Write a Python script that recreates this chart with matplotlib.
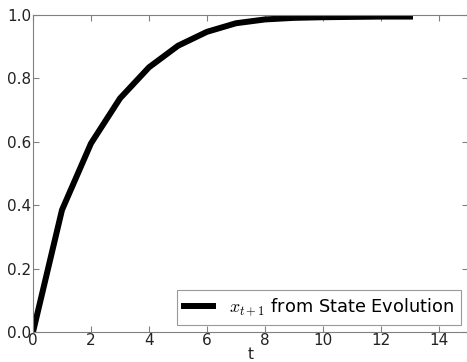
import numpy as np
import matplotlib
matplotlib.use("Agg")
import matplotlib.pyplot as plt

# state evolution values
t = [0, 1, 2, 3, 4, 5, 6, 7, 8, 9, 10, 11, 12, 13]
x_next = [0.0, 0.385, 0.595, 0.737, 0.835, 0.903, 0.947, 0.974, 0.986,
          0.991, 0.993, 0.994, 0.995, 0.995]

plt.rcParams['mathtext.fontset'] = 'cm'
plt.rcParams['font.family'] = 'DejaVu Sans'

fig = plt.figure(figsize=(4.67, 3.62), dpi=100)
ax = fig.add_axes([33 / 467, 1 - 332 / 362, 435 / 467, 317 / 362])

ax.plot(t, x_next, color='black', linewidth=4.3, label=r'$x_{t+1}$ from State Evolution')

ax.set_xlim(0, 15)
ax.set_ylim(0, 1.0)
ax.set_xticks(np.arange(0, 15, 2))
ax.set_yticks(np.arange(0, 1.01, 0.2))
ax.set_xlabel('t', fontsize=11, labelpad=-1, color='#222222')

for sp in ax.spines.values():
    sp.set_color('#808080')
ax.tick_params(direction='in', top=True, right=True, length=4, width=0.8,
               color='#808080', labelsize=11, labelcolor='#222222', pad=1)

leg = ax.legend(loc='lower right', fontsize=12.8, fancybox=False,
                borderaxespad=0.4, handlelength=1.6, handletextpad=0.9)
leg.get_frame().set_edgecolor('#808080')
leg.get_frame().set_linewidth(0.8)

fig.savefig('out.png', dpi=100)
